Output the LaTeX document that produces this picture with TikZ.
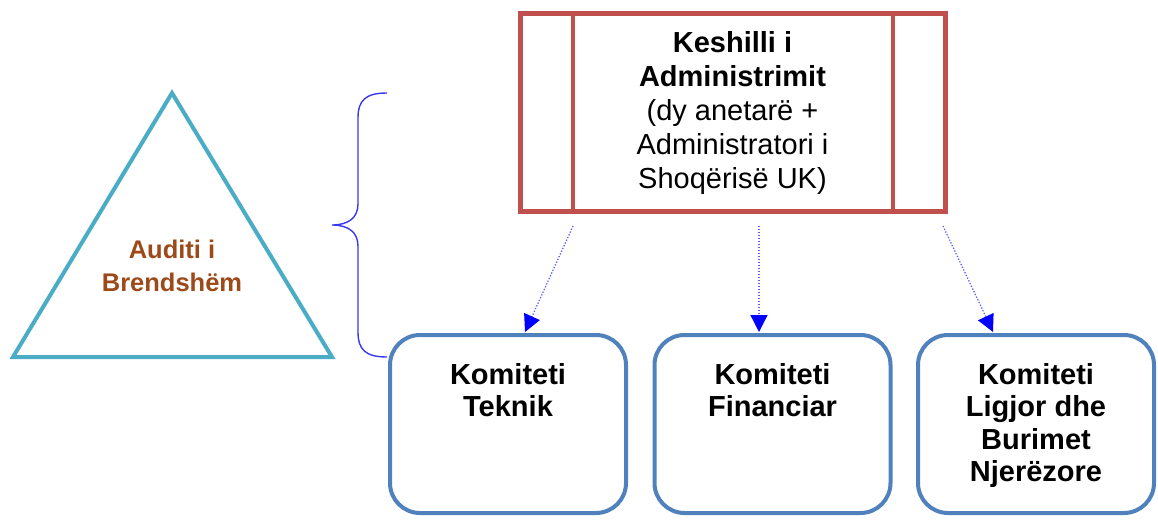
\documentclass[tikz,border=0pt]{standalone}
\usepackage{fontspec}
\setmainfont{Liberation Sans}
\usetikzlibrary{arrows.meta,calc}
\definecolor{boardred}{HTML}{C0504D}
\definecolor{auditcyan}{HTML}{4BACC6}
\definecolor{committeeblue}{HTML}{4F81BD}
\definecolor{bracecol}{HTML}{3838F0}
\definecolor{auditbrown}{HTML}{9C4A1A}
\definecolor{linkblue}{HTML}{6060FF}
\tikzset{
  board/.style={draw=boardred, line width=5pt, minimum width=425pt, minimum height=197pt, inner sep=0pt},
  committee/.style={draw=committeeblue, line width=4pt, rounded corners=30pt, minimum width=236pt, minimum height=178pt, inner sep=0pt},
  boxtext/.style={align=center, font=\fontsize{29}{32.5}\selectfont\bfseries, inner sep=0pt, anchor=north},
  link/.style={linkblue, line width=1.3pt, dash pattern=on 1.3pt off 1.7pt,
    -{Triangle[width=17pt,length=17pt,color=blue,fill=blue]}},
}
\begin{document}
\begin{tikzpicture}[x=1pt,y=-1pt]
\useasboundingbox (0,0) rectangle (1158,519);

% Board of administration
\node[board] (board) at (732.5,112.5) {};
\draw[boardred, line width=4pt] ($(board.north west)+(55,0)$) -- ($(board.south west)+(55,0)$);
\draw[boardred, line width=4pt] ($(board.north east)+(-55,0)$) -- ($(board.south east)+(-55,0)$);
\node[align=center, inner sep=0pt, font=\fontsize{29}{34}\selectfont] (boardtext) at (732.5,113)
  {\textbf{Keshilli i}\\ \textbf{Administrimit}\\ (dy anetarë +\\ Administratori i\\ Shoqërisë UK)};

% Internal audit triangle
\coordinate (apex) at (172,93);
\coordinate (bl) at (13,357);
\coordinate (br) at (332,357);
\draw[auditcyan, line width=4pt, line join=miter] (apex) -- (br) -- (bl) -- cycle;
\node[align=center, inner sep=0pt, text=auditbrown, font=\fontsize{25.5}{33}\selectfont\bfseries] (audit) at (172,266)
  {Auditi i\\ Brendshëm};

% Brace grouping
\coordinate (bracetop) at (387,93);
\coordinate (bracetip) at (332,225);
\coordinate (bracebot) at (387,357);
\draw[bracecol, line width=1.4pt]
  (bracetop) .. controls (366,93) and (358,100) .. (358,118)
  -- (358,204) .. controls (358,218) and (348,225) .. (bracetip)
  .. controls (348,225) and (358,232) .. (358,246)
  -- (358,332) .. controls (358,350) and (366,357) .. (bracebot);

% Committees
\node[committee] (c1) at (508,424) {};
\node[committee] (c2) at (772.5,424) {};
\node[committee] (c3) at (1036,424) {};
\node[boxtext] (t1) at ($(c1.north)+(0,30)$) {Komiteti\\ Teknik};
\node[boxtext] (t2) at ($(c2.north)+(0,30)$) {Komiteti\\ Financiar};
\node[boxtext] (t3) at ($(c3.north)+(0,30)$) {Komiteti\\ Ligjor dhe\\ Burimet\\ Njerëzore};

% Reporting links
\draw[link] ([shift={(-159.5,12.5)}]board.south) -- ([shift={(17,-1)}]c1.north);
\draw[link] ([shift={(26.5,12.5)}]board.south) -- ([shift={(-13.5,-1)}]c2.north);
\draw[link] ([shift={(210.5,12.5)}]board.south) -- ([shift={(-43,-1)}]c3.north);
\end{tikzpicture}
\end{document}
